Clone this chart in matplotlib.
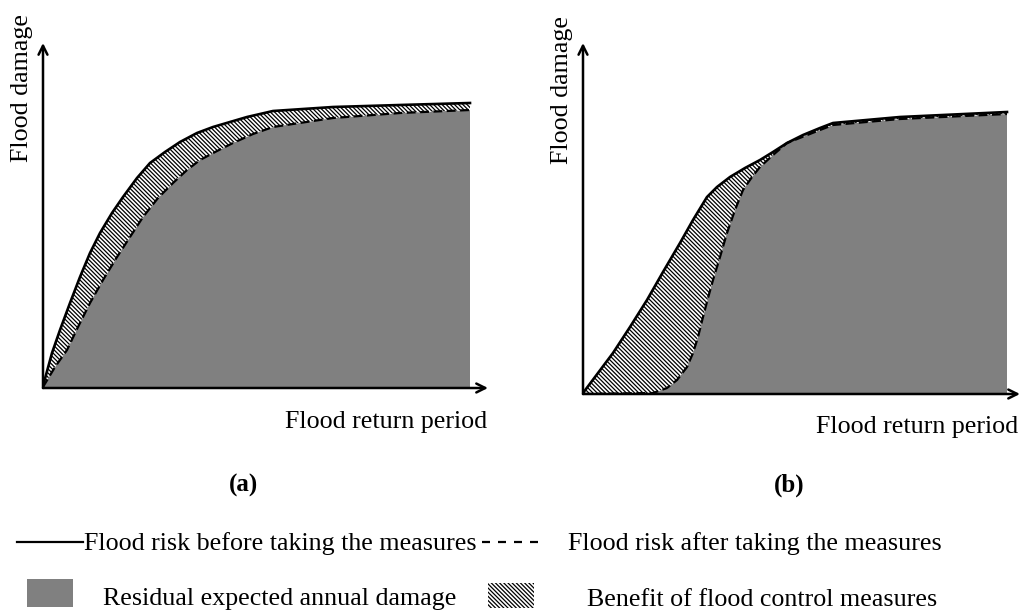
import numpy as np
import matplotlib
matplotlib.use('Agg')
import matplotlib.pyplot as plt
from matplotlib.patches import Rectangle

plt.rcParams['font.family'] = ['Liberation Serif', 'DejaVu Serif']
plt.rcParams['hatch.linewidth'] = 0.9

W, H = 1028, 612

# panel (a): return period vs damage (arbitrary units)
a_before_x = [0, 9, 17, 27, 37, 47, 57, 69, 80, 94, 107, 122, 137, 154, 170,
              204, 230, 290, 357, 427]
a_before_y = [2, 35, 58, 85, 111, 135, 155, 175, 191, 210, 225, 236, 246, 255,
              261, 271, 277, 281, 283, 285]
a_after_x = [0, 12, 24, 35, 47, 60, 74, 87, 100, 115, 130, 144, 157, 174, 190,
             210, 230, 290, 357, 427]
a_after_y = [1, 21, 38, 61, 85, 108, 131, 151, 171, 190, 205, 218, 228, 237,
             245, 254, 261, 270, 275, 278]
a_lim = (445, 345)

# panel (b)
b_before_x = [0, 15, 30, 47, 64, 80, 97, 110, 124, 134, 147, 162, 177, 190,
              204, 220, 237, 250, 317, 424]
b_before_y = [1, 21, 41, 67, 94, 122, 151, 174, 197, 207, 217, 226, 234, 242,
              251, 259, 266, 271, 277, 282]
b_after_x = [0, 70, 84, 94, 104, 110, 115, 120, 125, 130, 137, 144, 152, 160,
             169, 177, 190, 204, 237, 250, 317, 424]
b_after_y = [0, 1, 6, 14, 27, 41, 57, 77, 96, 114, 137, 161, 184, 204, 217,
             227, 239, 251, 264, 269, 275, 280]
b_lim = (437, 351)

gray = '#808080'
hatch = '\\\\\\\\\\\\\\\\'


def panel(rect, bx, by, ax_, ay, lim):
    ax = fig.add_axes(rect)
    ax.set_xlim(0, lim[0])
    ax.set_ylim(0, lim[1])
    ax.axis('off')
    bx, by, ax_, ay = map(np.array, (bx, by, ax_, ay))
    # residual damage under the "after" curve
    ax.fill(np.r_[ax_, ax_[-1], 0], np.r_[ay, 0, 0], color=gray, lw=0, zorder=1)
    # benefit between the two curves
    ax.fill(np.r_[bx, ax_[::-1]], np.r_[by, ay[::-1]], facecolor='white',
            edgecolor='black', hatch=hatch, lw=0, zorder=2)
    ax.plot(bx, by, color='black', lw=1.9, solid_joinstyle='round', zorder=3)
    ax.plot(ax_, ay, color='black', lw=1.6, dashes=(4, 2), zorder=3)
    arrow = dict(arrowstyle='->', lw=1.8, color='black', mutation_scale=16,
                 shrinkA=0, shrinkB=0)
    ax.annotate('', xy=(lim[0], 0), xytext=(0, 0), arrowprops=arrow,
                annotation_clip=False, zorder=4)
    ax.annotate('', xy=(0, lim[1]), xytext=(0, 0), arrowprops=arrow,
                annotation_clip=False, zorder=4)
    return ax


def px(x, y):
    return x / W, 1 - y / H


fig = plt.figure(figsize=(W / 100, H / 100), dpi=100)

panel([43 / W, 1 - 388 / H, a_lim[0] / W, a_lim[1] / H],
      a_before_x, a_before_y, a_after_x, a_after_y, a_lim)
panel([583 / W, 1 - 394 / H, b_lim[0] / W, b_lim[1] / H],
      b_before_x, b_before_y, b_after_x, b_after_y, b_lim)

# axis titles
fs = 18.7
fig.text(*px(487, 428), 'Flood return period', ha='right', va='baseline', fontsize=fs)
fig.text(*px(1018, 433), 'Flood return period', ha='right', va='baseline', fontsize=fs)
fig.text(*px(22, 14), 'Flood damage', rotation=90, ha='center', va='top', fontsize=fs)
fig.text(*px(562, 16), 'Flood damage', rotation=90, ha='center', va='top', fontsize=fs)

fig.text(*px(244, 485), '(a)', ha='center', va='center', fontsize=18, fontweight='bold')
fig.text(*px(789, 485), '(b)', ha='center', va='center', fontsize=18, fontweight='bold')

# legend drawn in pixel space
lg = fig.add_axes([0, 0, 1, 1], zorder=5)
lg.set_xlim(0, W)
lg.set_ylim(H, 0)
lg.axis('off')
lg.patch.set_alpha(0)

lfs = 18.7
lg.plot([17, 83], [542, 542], color='black', lw=1.6)
lg.text(84, 550, 'Flood risk before taking the measures', va='baseline', fontsize=lfs)
lg.plot([482, 543], [542, 542], color='black', lw=1.6, dashes=(3.6, 3.6))
lg.text(568, 550, 'Flood risk after taking the measures', va='baseline', fontsize=lfs)

lg.add_patch(Rectangle((27, 579), 46, 28, facecolor=gray, lw=0))
lg.text(103, 605, 'Residual expected annual damage', va='baseline', fontsize=lfs)
lg.add_patch(Rectangle((488, 583), 46, 25, facecolor='white', edgecolor='black',
                       hatch=hatch, lw=0))
lg.text(587, 606, 'Benefit of flood control measures', va='baseline', fontsize=lfs)

fig.savefig('out.png', dpi=100)
